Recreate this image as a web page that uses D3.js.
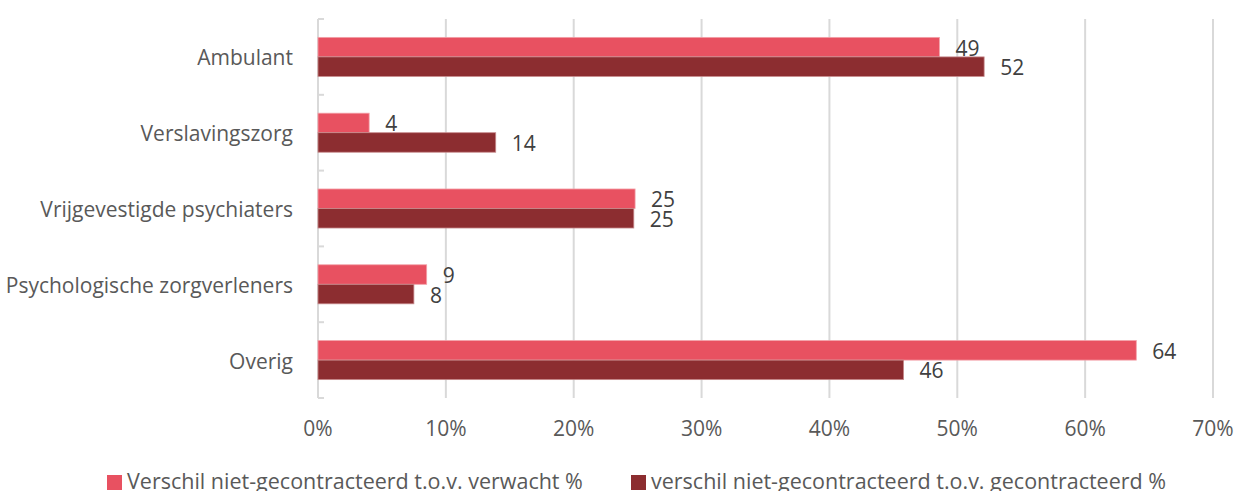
<!DOCTYPE html>
<html>
<head>
<meta charset="utf-8">
<script src="https://cdn.jsdelivr.net/npm/d3@7"></script>
<style>
  body { margin: 0; background: #fff; }
  svg { display: block; font-family: "Open Sans", Lato, sans-serif; }
</style>
</head>
<body>
<svg id="chart" width="1237" height="491"></svg>
<script>
// chart data
var categories = ["Ambulant", "Verslavingszorg", "Vrijgevestigde psychiaters", "Psychologische zorgverleners", "Overig"];
var seriesNames = ["Verschil niet-gecontracteerd t.o.v. verwacht %", "verschil niet-gecontracteerd t.o.v. gecontracteerd %"];
var verwacht = [48.6, 4.0, 24.8, 8.5, 64.0];
var gecontracteerd = [52.1, 13.9, 24.7, 7.5, 45.8];
var tickValues = [0, 10, 20, 30, 40, 50, 60, 70];
var colors = ["#e85161", "#8c2d30"];

var svg = d3.select("#chart");
var plotLeft = 318, plotRight = 1213, plotTop = 19, plotBottom = 398;
var fs = 21;

var x = d3.scaleLinear().domain([0, 70]).range([plotLeft, plotRight]);
var y = d3.scaleBand().domain(categories).range([plotTop, plotBottom]).paddingInner(0.485).paddingOuter(0.2425);
var sub = d3.scaleBand().domain([0, 1]).range([0, y.bandwidth()]);

// gridlines
svg.append("g").selectAll("line")
    .data(tickValues.slice(1))
    .enter().append("line")
    .attr("x1", function(d) { return x(d); })
    .attr("x2", function(d) { return x(d); })
    .attr("y1", plotTop)
    .attr("y2", plotBottom)
    .attr("stroke", "#d9d9d9")
    .attr("stroke-width", 2);

// category axis with ticks between groups
var step = y.step();
var bounds = d3.range(categories.length + 1).map(function(i) { return plotTop + i * step; });
svg.append("line")
    .attr("x1", plotLeft).attr("x2", plotLeft)
    .attr("y1", plotTop).attr("y2", plotBottom)
    .attr("stroke", "#d9d9d9").attr("stroke-width", 2);
svg.append("g").selectAll("line")
    .data(bounds)
    .enter().append("line")
    .attr("x1", plotLeft).attr("x2", plotLeft + 6)
    .attr("y1", function(d) { return d; })
    .attr("y2", function(d) { return d; })
    .attr("stroke", "#d9d9d9").attr("stroke-width", 2);

// bars
var series = [verwacht, gecontracteerd];
series.forEach(function(vals, s) {
    var g = svg.append("g");
    g.selectAll("rect")
        .data(vals)
        .enter().append("rect")
        .attr("x", x(0))
        .attr("y", function(d, i) { return y(categories[i]) + sub(s); })
        .attr("width", function(d) { return x(d) - x(0); })
        .attr("height", sub.bandwidth())
        .attr("fill", colors[s])
        .attr("stroke", s == 0 ? "#f3a0a8" : "#c78a8c")
        .attr("stroke-width", 0.8);
    g.selectAll("text")
        .data(vals)
        .enter().append("text")
        .attr("x", function(d) { return x(d) + 16; })
        .attr("y", function(d, i) { return y(categories[i]) + sub(s) + sub.bandwidth() / 2 + 8.5; })
        .attr("font-size", fs)
        .attr("fill", "#404040")
        .text(function(d) { return Math.round(d); });
});

// category labels
svg.append("g").selectAll("text")
    .data(categories)
    .enter().append("text")
    .attr("x", 293)
    .attr("y", function(d) { return y(d) + y.bandwidth() / 2 + 8.5; })
    .attr("text-anchor", "end")
    .attr("font-size", fs)
    .attr("fill", "#595959")
    .text(function(d) { return d; });

// x axis labels
svg.append("g").selectAll("text")
    .data(tickValues)
    .enter().append("text")
    .attr("x", function(d) { return x(d); })
    .attr("y", 436)
    .attr("text-anchor", "middle")
    .attr("font-size", fs)
    .attr("fill", "#595959")
    .text(function(d) { return d + "%"; });

// legend
var legendX = [107, 631];
seriesNames.forEach(function(name, s) {
    svg.append("rect")
        .attr("x", legendX[s]).attr("y", 475)
        .attr("width", 15).attr("height", 15)
        .attr("fill", colors[s]);
    svg.append("text")
        .attr("x", legendX[s] + 20)
        .attr("y", 489)
        .attr("font-size", 21.5)
        .attr("fill", "#595959")
        .text(name);
});
</script>
</body>
</html>
